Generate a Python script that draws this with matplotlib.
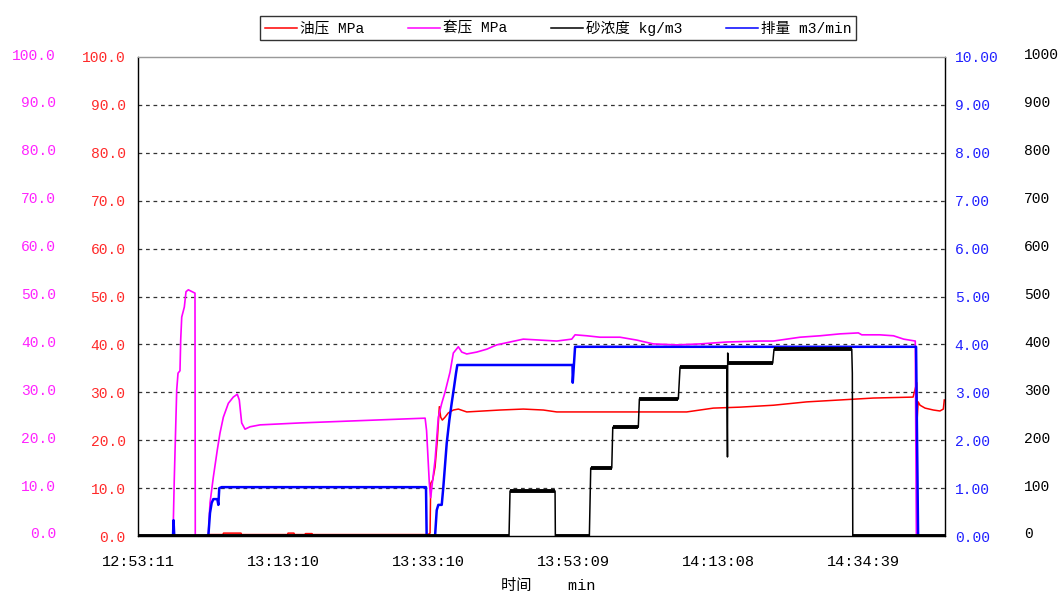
import matplotlib
matplotlib.use('Agg')
import matplotlib.pyplot as plt
from matplotlib.ticker import FixedLocator, FormatStrFormatter
from matplotlib.transforms import ScaledTranslation

FONT = ['Liberation Mono', 'Noto Sans CJK SC']
plt.rcParams['font.family'] = FONT

# time in minutes from 12:53:11
tick_minutes = [0, 20, 40, 60, 80, 100]
tick_labels = ['12:53:11', '13:13:10', '13:33:10', '13:53:09', '14:13:08', '14:34:39']
t_end = 111.3

# 套压 MPa
casing_t = [0, 4.83, 5.0, 5.34, 5.52, 5.79, 5.89, 6.03, 6.39, 6.62, 6.94, 7.86, 7.90,
            9.70, 9.93, 10.39, 10.94, 11.31, 11.77, 12.46, 13.14, 13.69, 13.97, 14.30,
            14.76, 15.45, 16.83, 22.3, 29.2, 36.1, 39.6, 39.8, 40.18, 40.37, 40.59,
            40.97, 41.42, 41.89, 42.34, 43.03, 43.49, 44.18, 44.65, 45.34, 46.72,
            48.10, 49.48, 51.31, 53.14, 55.45, 57.75, 59.82, 60.28, 61.89, 63.72,
            66.48, 68.79, 71.08, 74.30, 77.52, 81.2, 85.79, 87.63, 91.31, 94.07,
            96.83, 99.35, 99.82, 102.3, 104.2, 105.6, 107.2, 107.35, 111.3]
casing_p = [0, 0, 11.7, 30.5, 34, 34.5, 41, 45.7, 47.8, 51, 51.4, 50.7, 0,
            0, 6.9, 12.3, 18, 21.5, 24.8, 27.7, 29, 29.6, 28.4, 23.6,
            22.3, 22.8, 23.2, 23.6, 24.0, 24.4, 24.6, 22, 11, 8, 11,
            15.9, 24.8, 27.7, 30, 34.2, 38.2, 39.5, 38.4, 38, 38.4,
            39, 39.9, 40.5, 41.1, 40.9, 40.7, 41.1, 42, 41.8, 41.5,
            41.5, 40.9, 40.1, 39.9, 40.1, 40.5, 40.7, 40.7, 41.5, 41.8,
            42.2, 42.4, 42, 42, 41.8, 41.1, 40.7, 0, 0]

# 油压 MPa
tubing_t = [0, 9.5, 9.6, 11.7, 11.8, 14.2, 14.3, 20.6, 20.7, 21.5, 21.6, 23.0, 23.1,
            24.0, 24.1, 39.6, 40.0, 40.28, 40.37, 40.65, 40.97, 41.28, 41.56, 41.75,
            41.97, 42.34, 42.80, 43.49, 44.18, 45.34, 47.63, 49.93, 53.14, 55.90,
            57.75, 63.72, 75.68, 76.59, 79.35, 83.03, 87.63, 92.23, 96.83, 101.4,
            106.9, 107.4, 107.43, 107.6, 107.86, 108.55, 109.7, 110.6, 111.07, 111.2]
tubing_p = [0, 0, 0.3, 0.3, 0.6, 0.6, 0.3, 0.3, 0.6, 0.6, 0.3, 0.3, 0.5,
            0.5, 0.3, 0.3, 0.3, 0.6, 11, 11.7, 14.4, 20, 27, 24.8,
            24.2, 24.8, 25.7, 26.3, 26.5, 25.9, 26.1, 26.3, 26.5, 26.3,
            25.9, 25.9, 25.9, 26.1, 26.7, 26.9, 27.3, 28, 28.4, 28.8,
            29, 32, 23.6, 28, 27.3, 26.7, 26.3, 26.1, 26.5, 28.4]

# 砂浓度 kg/m3
sand_t = [0, 51.17, 51.31, 57.52, 57.56, 62.25, 62.44, 65.34, 65.48, 69.0, 69.15,
          74.52, 74.76, 81.2, 81.3, 81.33, 81.42, 87.54, 87.72, 98.44, 98.52,
          98.58, 111.3]
sand_c = [0, 0, 94, 94, 0, 0, 142, 142, 227, 227, 286,
          286, 353, 353, 165, 382, 361, 361, 390, 390, 340,
          0, 0]

# 排量 m3/min
rate_t = [0, 4.83, 4.9, 5.0, 9.70, 9.93, 10.16, 10.39, 10.94, 11.08, 11.21, 11.54,
          39.72, 39.81, 40.97, 41.2, 41.42, 41.89, 42.11, 42.58, 42.94, 43.27,
          43.59, 43.86, 44.04, 59.93, 59.96, 60.28, 107.31, 107.59, 111.3]
rate_q = [0, 0, 0.33, 0, 0, 0.48, 0.69, 0.77, 0.77, 0.65, 1.0, 1.02,
          1.02, 0, 0, 0.54, 0.65, 0.65, 1.02, 1.94, 2.42, 2.78,
          3.11, 3.4, 3.57, 3.57, 3.2, 3.95, 3.95, 0, 0]

fig = plt.figure(figsize=(10.6, 5.95), dpi=100)
ax = fig.add_axes([138 / 1060, 59 / 595, 807 / 1060, 479 / 595])
ax_c = ax.twinx()
ax_q = ax.twinx()
ax_s = ax.twinx()

for a in (ax, ax_c, ax_q, ax_s):
    a.set_xlim(0, t_end)
    a.patch.set_visible(False)
    for side in ('left', 'right', 'bottom'):
        a.spines[side].set_color('black')
    a.spines['top'].set_color('#999999')

ax.set_ylim(0, 100)
ax_c.set_ylim(0, 100)
ax_q.set_ylim(0, 10)
ax_s.set_ylim(0, 1000)

ax.yaxis.set_major_locator(FixedLocator(range(0, 101, 10)))
ax.yaxis.set_major_formatter(FormatStrFormatter('%.1f'))
ax.tick_params(axis='y', length=0, pad=9, labelcolor='#ff2a2a', labelsize=10.5)

ax_c.yaxis.tick_left()
ax_c.yaxis.set_major_locator(FixedLocator(range(0, 101, 10)))
ax_c.yaxis.set_major_formatter(FormatStrFormatter('%.1f'))
ax_c.tick_params(axis='y', length=0, pad=59, labelcolor='#ff22ff', labelsize=10.5)

ax_q.yaxis.set_major_locator(FixedLocator(range(0, 11)))
ax_q.yaxis.set_major_formatter(FormatStrFormatter('%.2f'))
ax_q.tick_params(axis='y', length=0, pad=7, labelcolor='#2020ff', labelsize=10.5)

ax_s.yaxis.set_major_locator(FixedLocator(range(0, 1001, 100)))
ax_s.tick_params(axis='y', length=0, pad=57, labelcolor='black', labelsize=10.5)

# the outer scales sit a few pixels higher than the inner ones
lift = ScaledTranslation(0, 3 / 100, fig.dpi_scale_trans)
for lab in ax_c.get_yticklabels() + ax_s.get_yticklabels():
    lab.set_transform(lab.get_transform() + lift)

ax.set_xticks(tick_minutes)
ax.set_xticklabels(tick_labels)
ax.tick_params(axis='x', length=0, pad=14, labelsize=11)
for a in (ax_c, ax_q, ax_s):
    a.tick_params(axis='x', length=0, labelbottom=False)

for y in range(10, 100, 10):
    ax.axhline(y, color='#333333', lw=0.9, ls=(0, (3, 3)), zorder=0)

l_tub, = ax.plot(tubing_t, tubing_p, color='#ff0000', lw=1.1, label='油压 MPa')
l_cas, = ax_c.plot(casing_t, casing_p, color='#ff00ff', lw=1.2, label='套压 MPa')
l_rate, = ax_q.plot(rate_t, rate_q, color='#0000ff', lw=1.8, label='排量 m3/min')
l_sand, = ax_s.plot(sand_t, sand_c, color='black', lw=1.1, label='砂浓度 kg/m3')

# sand steps: the flat stretches are noisy and read as a heavier stroke
for i in range(len(sand_t) - 1):
    if sand_c[i] == sand_c[i + 1]:
        ax_s.hlines(sand_c[i], sand_t[i], sand_t[i + 1], color='black', lw=2.8)

leg = fig.legend(handles=[l_tub, l_cas, l_sand, l_rate],
                 ncol=4, loc='center', bbox_to_anchor=(558 / 1060, 1 - 28 / 595),
                 frameon=True, fancybox=False, edgecolor='black',
                 handlelength=2.2, handletextpad=0.2, columnspacing=3.0,
                 borderpad=0.3, prop={'family': FONT, 'size': 10.5})
leg.get_frame().set_linewidth(1.0)
for h in leg.legend_handles:
    h.set_linewidth(1.1)

fig.text(548 / 1060, 1 - 586 / 595, '时间    min', ha='center', va='center',
         fontsize=11, family=FONT)

fig.savefig('out.png', dpi=100, facecolor='white')
